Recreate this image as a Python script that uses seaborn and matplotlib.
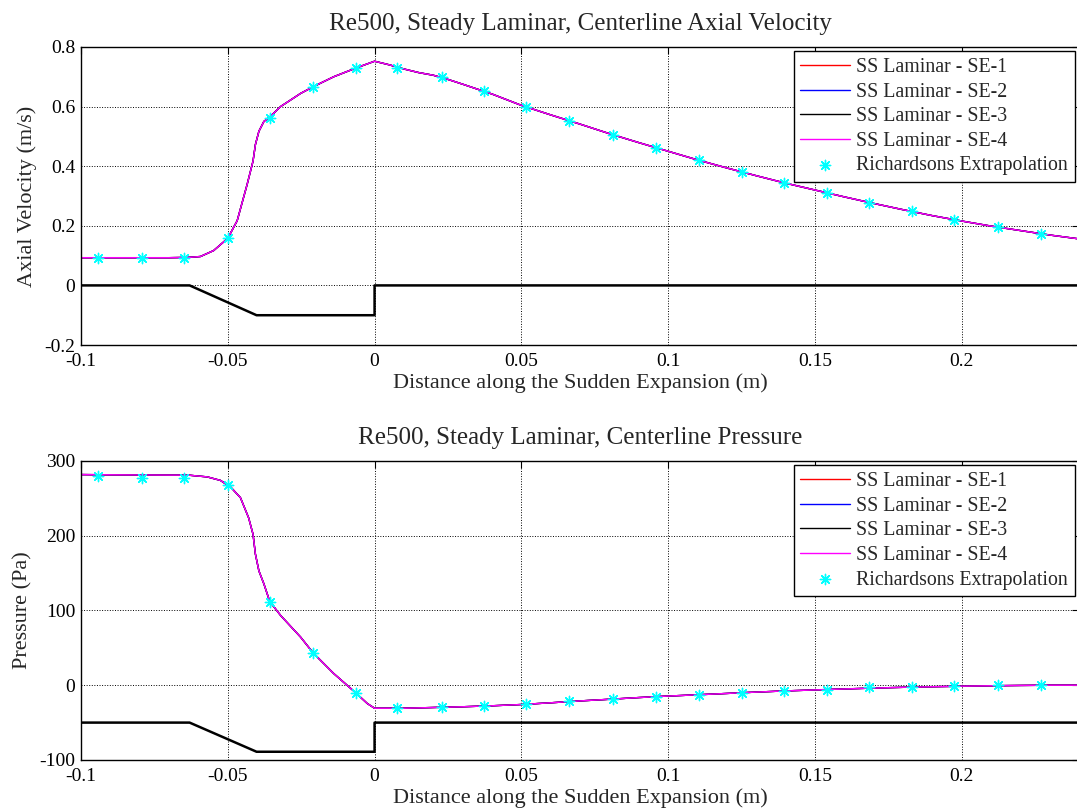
import matplotlib
matplotlib.use("Agg")
import matplotlib.pyplot as plt
import numpy as np
import pandas as pd
import seaborn as sns

# ---- centerline axial velocity (m/s) ----
x_vel = [-0.100, -0.090, -0.080, -0.070, -0.0633, -0.0593, -0.0548, -0.0500,
         -0.0468, -0.0434, -0.0414, -0.0406, -0.0394, -0.0377, -0.0357, -0.0320,
         -0.0252, -0.0210, -0.0139, -0.0064, 0.000, 0.005, 0.010, 0.015, 0.020,
         0.025, 0.030, 0.040, 0.050, 0.060, 0.070, 0.080, 0.090, 0.100, 0.110,
         0.120, 0.130, 0.140, 0.150, 0.160, 0.170, 0.180, 0.190, 0.200, 0.210,
         0.220, 0.230, 0.240]
vel = [0.093, 0.093, 0.093, 0.093, 0.094, 0.097, 0.117, 0.158,
       0.217, 0.339, 0.417, 0.472, 0.517, 0.550, 0.565, 0.600,
       0.644, 0.666, 0.700, 0.729, 0.752, 0.740, 0.726, 0.714, 0.705,
       0.691, 0.675, 0.642, 0.604, 0.572, 0.541, 0.509, 0.479, 0.450, 0.421,
       0.394, 0.368, 0.343, 0.320, 0.297, 0.275, 0.254, 0.234, 0.216, 0.199,
       0.184, 0.169, 0.156]

# ---- centerline pressure (Pa) ----
x_pres = [-0.100, -0.090, -0.080, -0.070, -0.0633, -0.0570, -0.0525, -0.0490,
          -0.0457, -0.0429, -0.0414, -0.0406, -0.0394, -0.0377, -0.0357, -0.0320,
          -0.0252, -0.0210, -0.0139, -0.0064, -0.0025, 0.000, 0.010, 0.020, 0.030,
          0.040, 0.050, 0.060, 0.070, 0.080, 0.090, 0.100, 0.110, 0.120, 0.130,
          0.140, 0.150, 0.160, 0.170, 0.180, 0.190, 0.200, 0.210, 0.220, 0.230,
          0.240]
pres = [281.8, 281.5, 281.3, 281.1, 281.0, 278.7, 274.0, 265.0,
        251.0, 224.0, 202.0, 175.6, 153.0, 135.6, 112.0, 93.3,
        64.4, 43.6, 15.6, -10.2, -24.4, -30.8, -30.8, -29.8, -28.8,
        -27.5, -25.8, -23.5, -21.0, -18.8, -16.5, -14.5, -12.8, -11.0, -9.2,
        -7.6, -6.3, -5.0, -3.8, -2.8, -2.0, -1.3, -0.7, -0.3, 0.0,
        0.0]

# ---- Richardson extrapolation points ----
x_rich = [-0.0942, -0.0792, -0.0649, -0.0500, -0.0357, -0.0210, -0.0064, 0.0077,
          0.0229, 0.0372, 0.0516, 0.0663, 0.0811, 0.0958, 0.1105, 0.1250,
          0.1393, 0.1540, 0.1685, 0.1830, 0.1975, 0.2122, 0.2270]
vel_rich = [0.093, 0.093, 0.093, 0.158, 0.563, 0.666, 0.728, 0.728,
            0.698, 0.651, 0.598, 0.551, 0.506, 0.462, 0.420, 0.381,
            0.344, 0.311, 0.278, 0.248, 0.220, 0.196, 0.173]
pres_rich = [280.0, 277.8, 277.8, 268.0, 112.0, 43.6, -10.2, -30.2,
             -29.5, -28.2, -25.0, -20.5, -19.0, -15.3, -12.7, -10.4,
             -7.3, -6.4, -2.9, -2.0, -1.6, 0.0, 0.0]

# ---- sudden-expansion geometry outline ----
x_geom = [-0.100, -0.0630, -0.0402, 0.000, 0.000, 0.240]
geom_vel = [0.0, 0.0, -0.1, -0.1, 0.0, 0.0]
geom_pres = [-50.0, -50.0, -89.0, -89.0, -50.0, -50.0]

meshes = ["SS Laminar - SE-1", "SS Laminar - SE-2",
          "SS Laminar - SE-3", "SS Laminar - SE-4"]
mesh_colors = ["#ff0000", "#0000ff", "#000000", "#ff00ff"]

x_ticks = [-0.1, -0.05, 0, 0.05, 0.1, 0.15, 0.2]
x_tick_labels = ["-0.1", "-0.05", "0", "0.05", "0.1", "0.15", "0.2"]
vel_ticks = [-0.2, 0, 0.2, 0.4, 0.6, 0.8]
vel_tick_labels = ["-0.2", "0", "0.2", "0.4", "0.6", "0.8"]
pres_ticks = [-100, 0, 100, 200, 300]
pres_tick_labels = ["-100", "0", "100", "200", "300"]

sns.set_style("white")
plt.rcParams["font.family"] = ["Liberation Serif", "DejaVu Serif"]

fig = plt.figure(figsize=(10.77, 8.09), dpi=100)
# right edge runs slightly past the canvas, so the right frame line is cut off
ax1 = fig.add_axes([0.0752, 0.5735, 0.9268, 0.3685])
ax2 = fig.add_axes([0.0752, 0.0606, 0.9268, 0.3696])

TICK_FS = 14
LABEL_FS = 16
TITLE_FS = 18
LEG_FS = 14.3


def draw_panel(ax, xs, ys, xr, yr, gy, yticks, ylabels, ylim, title, ylabel):
    for name, col in zip(meshes, mesh_colors):
        df = pd.DataFrame({"x": xs, "y": ys})
        sns.lineplot(data=df, x="x", y="y", ax=ax, color=col, lw=1.0,
                     label=name, sort=False, estimator=None)
    dfr = pd.DataFrame({"x": xr, "y": yr})
    sns.scatterplot(data=dfr, x="x", y="y", ax=ax, marker=(8, 2, 0),
                    color="#00ffff", edgecolor="#00ffff", s=55, linewidth=1.0,
                    label="Richardsons Extrapolation", zorder=5)
    dfg = pd.DataFrame({"x": x_geom, "y": gy})
    sns.lineplot(data=dfg, x="x", y="y", ax=ax, color="black", lw=1.8,
                 sort=False, estimator=None, legend=False, zorder=4)

    ax.set_xlim(-0.1, 0.24)
    ax.set_ylim(*ylim)
    ax.set_xticks(x_ticks)
    ax.set_xticklabels(x_tick_labels)
    ax.set_yticks(yticks)
    ax.set_yticklabels(ylabels)
    ax.tick_params(direction="in", length=5, width=0.8, labelsize=TICK_FS,
                   top=True, right=True, colors="black")
    ax.tick_params(axis="x", pad=6)
    ax.tick_params(axis="y", pad=4)
    ax.grid(True, color="black", linestyle=":", linewidth=0.7)
    for s in ax.spines.values():
        s.set_color("black")
        s.set_linewidth(1.0)
    ax.set_title(title, fontsize=TITLE_FS, pad=12)
    ax.set_xlabel("Distance along the Sudden Expansion (m)",
                  fontsize=LABEL_FS, labelpad=2)
    ax.set_ylabel(ylabel, fontsize=LABEL_FS, labelpad=5)

    h, l = ax.get_legend_handles_labels()
    leg = ax.legend(h, l, loc="upper right", fontsize=LEG_FS, frameon=True,
                    fancybox=False, edgecolor="black", framealpha=1,
                    handlelength=2.5, handletextpad=0.3, labelspacing=0.28,
                    borderpad=0.35, borderaxespad=0.22)
    leg.get_frame().set_linewidth(1.0)


draw_panel(ax1, x_vel, vel, x_rich, vel_rich, geom_vel, vel_ticks,
           vel_tick_labels, (-0.2, 0.8),
           "Re500, Steady Laminar, Centerline Axial Velocity",
           "Axial Velocity (m/s)")
draw_panel(ax2, x_pres, pres, x_rich, pres_rich, geom_pres, pres_ticks,
           pres_tick_labels, (-100, 300),
           "Re500, Steady Laminar, Centerline Pressure",
           "Pressure (Pa)")

fig.savefig("out.png", dpi=100)
